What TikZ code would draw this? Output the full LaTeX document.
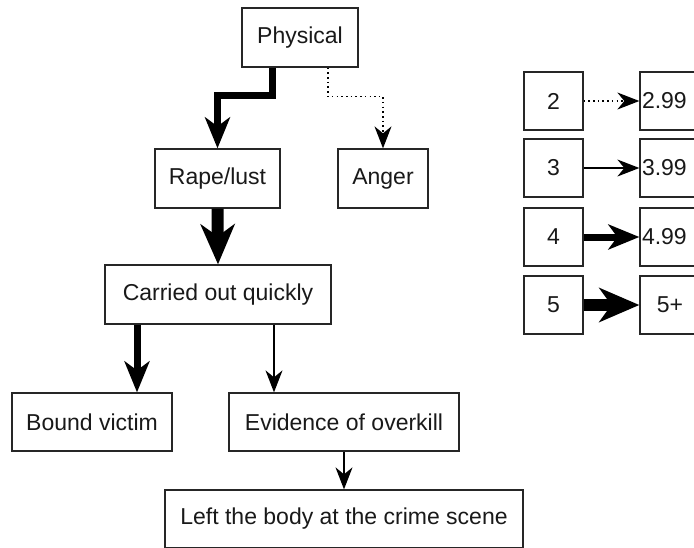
\documentclass[tikz,border=0pt]{standalone}
\usepackage{fontspec}
\setmainfont{Liberation Sans}
\usetikzlibrary{arrows.meta}
\begin{document}
\begin{tikzpicture}[x=1pt,y=-1pt,
  box/.style={draw=black!85, line width=1.3pt, minimum height=58pt, inner sep=0pt,
    font=\fontsize{23}{27}\selectfont, text=black!90, anchor=center},
  thinarr/.style={-{Stealth[length=22pt,width=17pt,inset=7pt]}, line width=1.5pt},
  dotarr/.style={thinarr, dash pattern=on 1.5pt off 3.2pt},
  medarr/.style={-{Stealth[length=31pt,width=25pt,inset=9pt]}, line width=7pt},
  bigarr/.style={-{Stealth[length=40pt,width=34pt,inset=12pt]}, line width=12pt},
  rbox/.style={box, minimum width=60pt, text width=56pt, align=left}
]
\useasboundingbox (0,0) rectangle (694,547);
\clip (0,0) rectangle (694,547);
\fill[white] (0,0) rectangle (694,547);

% main tree
\node[box, minimum width=116pt, minimum height=59pt] (phys) at (300,37.5) {Physical};
\node[box, minimum width=125pt, minimum height=59pt] (rape) at (217.5,178.5) {Rape/lust};
\node[box, minimum width=90pt, minimum height=59pt] (anger) at (383,178.5) {Anger};
\node[box, minimum width=226pt, minimum height=59pt] (carried) at (218,294.5) {Carried out quickly};
\node[box, minimum width=160pt] (bound) at (92,422) {Bound victim};
\node[box, minimum width=230pt] (evid) at (344,422) {Evidence of overkill};
\node[box, minimum width=358pt] (left) at (344,519) {Left the body at the crime scene};

\draw[medarr] ([xshift=-28pt]phys.south) -- ++(0,28) -| (rape.north);
\draw[dotarr] ([xshift=28pt]phys.south) -- ++(0,29) -| (anger.north);
\draw[bigarr] (rape.south) -- (carried.north);
\draw[medarr] ([xshift=-81pt]carried.south) -- ([xshift=45pt]bound.north);
\draw[thinarr] ([xshift=56pt]carried.south) -- ([xshift=-70pt]evid.north);
\draw[thinarr] (evid.south) -- (left.north);

% legend
\node[box, minimum width=59pt] (l2) at (553.5,101) {2};
\node[box, minimum width=59pt] (l3) at (553.5,168) {3};
\node[box, minimum width=59pt] (l4) at (553.5,237) {4};
\node[box, minimum width=59pt] (l5) at (553.5,305) {5};
\node[rbox] (r2) at (670,101) {2.99};
\node[rbox] (r3) at (670,168) {3.99};
\node[rbox] (r4) at (670,237) {4.99};
\node[box, minimum width=60pt] (r5) at (670,305) {5+};

\draw[dotarr] (l2.east) -- (r2.west);
\draw[thinarr] (l3.east) -- (r3.west);
\draw[medarr] (l4.east) -- (r4.west);
\draw[bigarr] (l5.east) -- (r5.west);
\end{tikzpicture}
\end{document}
